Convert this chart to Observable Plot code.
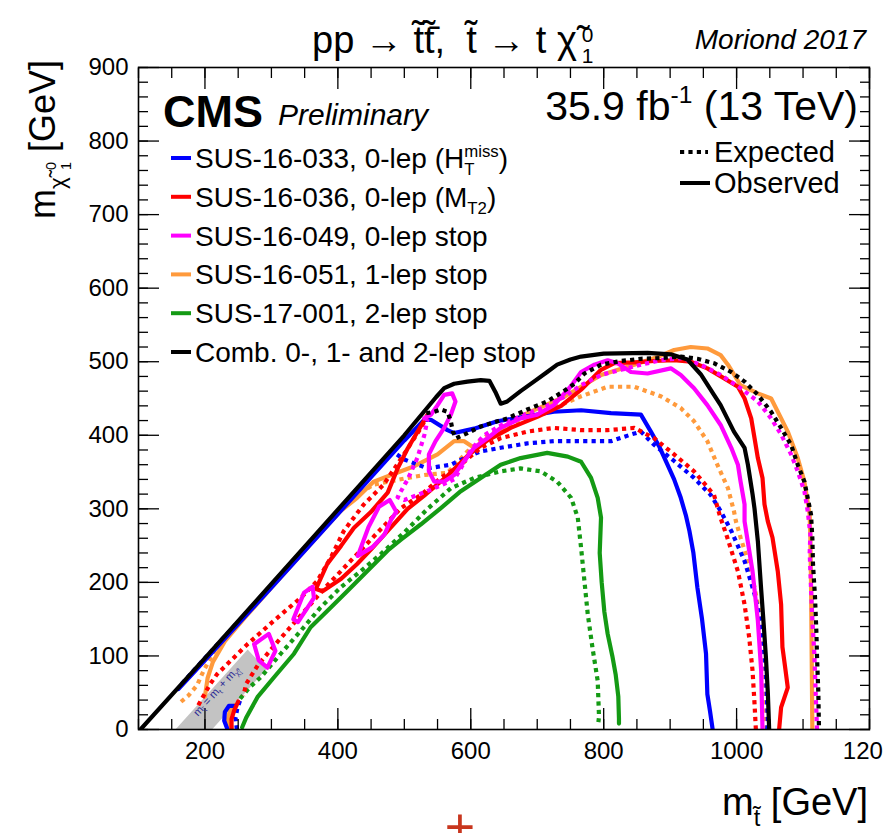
<!DOCTYPE html>
<html>
<head>
<meta charset="utf-8">
<script src="https://cdn.jsdelivr.net/npm/d3@7"></script>
<script src="https://cdn.jsdelivr.net/npm/@observablehq/plot@0.6"></script>
<style>
html,body{margin:0;padding:0;background:#fff;}
#chart svg{display:block}
</style>
</head>
<body>
<div id="chart"></div>
<script>
const FONT = '"Liberation Sans", Arial, Helvetica, sans-serif';

// ---------- axis ticks (GeV) ----------
const xMajorTicks = [200, 400, 600, 800, 1000, 1200];
const xMinorTicks = [100,150,200,250,300,350,400,450,500,550,600,650,700,750,800,850,900,950,1000,1050,1100,1150,1200];
const yMajorTicks = [0,100,200,300,400,500,600,700,800,900];
const yMinorTicks = [0,20,40,60,80,100,120,140,160,180,200,220,240,260,280,300,320,340,360,380,400,420,440,460,480,500,520,540,560,580,600,620,640,660,680,700,720,740,760,780,800,820,840,860,880,900];

// ---------- excluded band |m_stop - m_top - m_LSP| (GeV) ----------
const bandUpperEdge = [[157,0],[265,108]];
const bandLowerEdge = [[212,0],[293,81]];

// ---------- contours [m_stop, m_LSP] in GeV ----------
// Combination 0-,1-,2-lep (black)
const combObs = [[103,0],[200,97],[300,198],[400,299],[500,400],[548,452],[560,464],[575,470],[595,473],[615,475],[628,474],[637,459],[645,443],[655,446],[675,460],[695,473],[715,486],[730,496],[750,503],[766,507],[800,511],[866,512],[901,510],[926,503],[946,483],[966,455],[976,441],[996,405],[1012,383],[1017,360],[1024,320],[1027,300],[1032,256],[1037,190],[1041,140],[1044,100],[1047,50],[1049,0]];
const combExp = [[533,430],[545,432],[555,435],[565,432],[570,419],[573,405],[578,396],[595,403],[615,412],[655,423],[685,435],[715,446],[740,460],[756,470],[771,484],[796,496],[826,501],[856,504],[886,505],[916,507],[941,504],[966,498],[992,486],[1012,473],[1032,455],[1052,432],[1067,410],[1082,387],[1092,360],[1102,337],[1107,315],[1112,292],[1114,260],[1115,224],[1118,180],[1120,134],[1121,100],[1123,50],[1124,0]];

// SUS-16-033 (blue)
const h033Obs = [[964,0],[960,25],[956,48],[954,103],[948,150],[941,193],[935,240],[929,270],[924,290],[916,315],[906,340],[896,360],[884,384],[871,405],[856,428],[811,430],[766,434],[725,432],[680,425],[640,419],[605,409],[575,403],[565,407],[540,421],[530,421],[500,393],[450,343],[400,293],[300,193],[200,94],[160,55]];
const h033ObsLow = [[234,0],[229,12],[230,24],[236,32],[244,32]];
const h033Exp = [[1046,0],[1047,12],[1044,80],[1039,134],[1027,184],[1012,229],[992,270],[976,297],[961,319],[936,342],[906,365],[876,387],[856,405],[841,401],[811,392],[766,392],[725,392],[685,389],[645,383],[615,378],[595,371],[570,360],[535,355],[500,367],[482,378],[450,345],[400,296],[300,196],[200,97],[165,62]];
const h033ExpLow = [[248,0],[246,16],[249,30],[254,42]];

// SUS-16-036 (red)
const mt2Obs = [[1064,0],[1067,30],[1077,57],[1073,85],[1069,112],[1068,140],[1067,170],[1062,215],[1054,261],[1047,283],[1042,306],[1039,342],[1032,369],[1027,396],[1022,423],[1012,450],[1002,466],[982,477],[956,491],[931,500],[906,502],[876,501],[846,499],[816,498],[796,489],[766,462],[736,440],[700,425],[660,410],[625,393],[595,372],[565,345],[530,318],[505,300],[475,270],[450,245],[429,225],[405,205],[377,188],[367,191],[375,207],[384,225],[405,250],[424,274],[450,296],[475,322],[490,355],[505,382],[520,405],[535,428]];
const mt2ObsLow = [[240,0],[240,14],[244,26],[250,38]];
const mt2Exp = [[1029,0],[1027,35],[1024,80],[1019,125],[1012,170],[1002,215],[986,261],[975,290],[966,319],[936,351],[906,374],[876,396],[846,410],[806,407],[766,407],[725,410],[685,405],[645,396],[615,383],[585,360],[555,342],[525,319],[495,301],[460,268],[420,230],[380,192],[344,155],[310,120],[280,88],[262,62],[258,46]];
const mt2ExpUpper = [[190,33],[208,62],[218,75],[264,116],[304,148],[344,179],[369,202],[389,233],[409,270],[439,306],[469,333],[500,375],[525,410],[538,432]];

// SUS-16-049 (magenta)
const stop0Obs = [[1039,0],[1037,80],[1032,148],[1024,215],[1012,283],[1012,306],[1006,337],[1002,360],[992,383],[976,414],[956,441],[936,464],[916,482],[901,491],[866,484],[841,486],[821,498],[806,502],[786,496],[766,486],[750,466],[725,441],[700,428],[675,423],[645,410],[625,396],[605,383],[590,365],[575,346],[560,337],[545,337],[537,351],[537,374],[547,392],[560,410],[570,428],[577,446],[572,457],[560,455],[550,441],[540,428],[530,423]];
const stop0IslandA = [[274,116],[296,130],[306,107],[294,84],[281,94],[274,116]];
const stop0IslandB = [[333,150],[349,186],[362,194],[364,179],[340,146],[333,150]];
const stop0IslandC = [[430,236],[446,275],[462,303],[478,312],[488,296],[480,285],[470,265],[452,248],[430,236]];
const stop0Exp = [[1121,0],[1119,50],[1117,103],[1114,150],[1112,193],[1110,240],[1111,265],[1107,297],[1102,324],[1092,351],[1082,374],[1067,401],[1052,423],[1032,446],[1006,464],[976,482],[946,496],[916,505],[886,502],[856,496],[826,489],[796,482],[766,468],[740,452],[710,438],[680,428],[650,416],[620,400],[600,380],[585,355],[575,340],[540,326],[500,312],[490,316],[505,340],[520,370],[530,400],[535,422]];

// SUS-16-051 (orange)
const stop1Obs = [[1114,0],[1113,100],[1112,200],[1111,261],[1110,292],[1102,337],[1092,369],[1077,405],[1062,432],[1052,450],[1032,457],[1006,468],[987,496],[976,509],[956,518],[931,520],[906,516],[880,506],[846,496],[796,482],[766,466],[740,452],[710,440],[680,428],[650,412],[625,395],[605,383],[590,392],[575,392],[550,374],[515,358],[480,346],[454,337],[429,315],[404,297],[380,273],[340,233],[300,193],[260,152],[230,120],[212,92],[204,70],[200,45]];
const stop1ObsLow = [[236,0],[234,12],[237,24],[245,33]];
const stop1Exp = [[1045,0],[1044,12],[1042,80],[1037,148],[1022,215],[1006,261],[999,283],[996,297],[987,328],[971,360],[956,392],[936,419],[916,437],[886,453],[846,466],[806,466],[766,453],[725,437],[685,425],[655,412],[625,400],[595,378],[565,349],[530,346],[505,342],[454,333],[420,314],[400,297],[360,257],[300,197],[250,146],[215,108],[198,80],[188,60],[175,46],[163,37]];
const stop1ExpLow = [[240,0],[239,15],[246,34]];

// SUS-17-001 (green)
const stop2Obs = [[256,3],[262,16],[279,44],[304,71],[334,103],[359,139],[384,161],[414,188],[444,215],[477,245],[495,258],[525,279],[555,301],[585,324],[615,342],[645,360],[675,369],[715,376],[746,371],[766,364],[781,342],[791,315],[796,288],[794,240],[797,200],[801,160],[806,130],[813,100],[818,75],[822,45],[823,15],[823,8]];
const stop2Exp = [[253,42],[268,58],[284,71],[314,103],[344,134],[374,166],[404,193],[434,215],[464,238],[500,268],[535,300],[570,328],[605,342],[645,351],[675,355],[705,351],[730,337],[751,315],[761,288],[766,247],[771,202],[776,157],[783,112],[791,66],[793,17],[792,10]];

// ---------- legend ----------
const legendLabels = ["SUS-16-033, 0-lep (H", "SUS-16-036, 0-lep (M", "SUS-16-049, 0-lep stop", "SUS-16-051, 1-lep stop", "SUS-17-001, 2-lep stop", "Comb. 0-, 1- and 2-lep stop"];

const BLUE = "#0000ff", RED = "#ff0000", MAGENTA = "#ff00ff", ORANGE = "#ff9a3c", GREEN = "#149a14", BLACK = "#000000";
const legendColors = [BLUE, RED, MAGENTA, ORANGE, GREEN, BLACK];

const curves = [
  {pts: stop2Exp, c: GREEN, dot: true}, {pts: stop2Obs, c: GREEN},
  {pts: stop1Exp, c: ORANGE, dot: true}, {pts: stop1ExpLow, c: ORANGE, dot: true},
  {pts: stop1Obs, c: ORANGE}, {pts: stop1ObsLow, c: ORANGE},
  {pts: h033Exp, c: BLUE, dot: true}, {pts: h033ExpLow, c: BLUE, dot: true},
  {pts: h033Obs, c: BLUE}, {pts: h033ObsLow, c: BLUE},
  {pts: mt2Exp, c: RED, dot: true}, {pts: mt2ExpUpper, c: RED, dot: true},
  {pts: mt2Obs, c: RED}, {pts: mt2ObsLow, c: RED},
  {pts: stop0Exp, c: MAGENTA, dot: true},
  {pts: stop0Obs, c: MAGENTA}, {pts: stop0IslandA, c: MAGENTA}, {pts: stop0IslandB, c: MAGENTA}, {pts: stop0IslandC, c: MAGENTA},
  {pts: combExp, c: BLACK, dot: true}, {pts: combObs, c: BLACK}
];

const bandRows = [
  {x1: bandLowerEdge[0][0], y1: bandLowerEdge[0][1], x2: bandUpperEdge[0][0], y2: bandUpperEdge[0][1]},
  {x1: bandLowerEdge[1][0], y1: bandLowerEdge[1][1], x2: bandUpperEdge[1][0], y2: bandUpperEdge[1][1]}
];

const noText = () => "";
const chart = Plot.plot({
  width: 883, height: 833,
  marginLeft: 138, marginRight: 14, marginTop: 67, marginBottom: 104,
  x: {domain: [100, 1200]},
  y: {domain: [0, 900]},
  style: {fontFamily: FONT, background: "#fff", color: "#000", fontSize: "24px"},
  marks: [
    Plot.area(bandRows, {x1: "x1", y1: "y1", x2: "x2", y2: "y2", fill: "#c3c3c3"}),
    ...curves.map(s => Plot.line(s.pts, {
      x: d => d[0], y: d => d[1], stroke: s.c, strokeWidth: 4.2,
      strokeDasharray: s.dot ? "4.2,4.2" : null,
      strokeLinejoin: "round", strokeLinecap: s.dot ? "butt" : "round", clip: true
    })),
    Plot.frame({stroke: "#000", strokeWidth: 1.6}),
    Plot.axisX(xMinorTicks, {anchor: "bottom", tickSize: -10, tickFormat: noText, label: null, strokeWidth: 1.3}),
    Plot.axisX(xMajorTicks, {anchor: "bottom", tickSize: -21, tickFormat: noText, label: null, strokeWidth: 1.3}),
    Plot.axisX(xMinorTicks, {anchor: "top", tickSize: -10, tickFormat: noText, label: null, strokeWidth: 1.3}),
    Plot.axisX(xMajorTicks, {anchor: "top", tickSize: -21, tickFormat: noText, label: null, strokeWidth: 1.3}),
    Plot.axisY(yMinorTicks, {anchor: "left", tickSize: -10, tickFormat: noText, label: null, strokeWidth: 1.3}),
    Plot.axisY(yMajorTicks, {anchor: "left", tickSize: -21, tickFormat: noText, label: null, strokeWidth: 1.3}),
    Plot.axisY(yMinorTicks, {anchor: "right", tickSize: -10, tickFormat: noText, label: null, strokeWidth: 1.3}),
    Plot.axisY(yMajorTicks, {anchor: "right", tickSize: -21, tickFormat: noText, label: null, strokeWidth: 1.3}),
    Plot.axisX(xMajorTicks, {anchor: "bottom", tickSize: 0, tickPadding: 12, label: null, fontSize: 24, tickFormat: d => String(d)}),
    Plot.axisY(yMajorTicks, {anchor: "left", tickSize: 0, tickPadding: 10, label: null, fontSize: 24, tickFormat: d => String(d)})
  ]
});
document.getElementById("chart").appendChild(chart);

// ---------- annotations ----------
const svg = d3.select(chart);
const g = svg.append("g").attr("font-family", FONT);

function rich(x, y, parts, o) {
  const size = o.size;
  const t = g.append("text")
    .attr("x", x).attr("y", y)
    .attr("font-size", size)
    .attr("text-anchor", o.anchor || "start")
    .attr("fill", o.fill || "#000")
    .style("white-space", "pre");
  if (o.weight) t.attr("font-weight", o.weight);
  if (o.italic) t.attr("font-style", "italic");
  if (o.rotate) t.attr("transform", `rotate(${o.rotate},${x},${y})`);
  let cur = 0, prevLen = 0, pending = 0;
  for (const p of parts) {
    const s = p.s ?? 1, off = (p.o ?? 0) * size;
    const ts = t.append("tspan").attr("font-size", size * s).attr("dy", off - cur).text(p.t);
    const len = ts.node().getComputedTextLength();
    let dx = (p.dx ?? 0) * size;
    if (p.back) {
      dx -= prevLen;
      pending = Math.max(0, prevLen - len);
    } else if (pending) {
      dx += pending;
      pending = 0;
    }
    if (dx) ts.attr("dx", dx);
    cur = off;
    prevLen = len;
  }
  return t;
}

// title
rich(312, 53, [{t: "pp \u2192 t\u0303t\u0303\u0304,  t\u0303 \u2192 t \u03c7\u0303"}, {t: "0", s: .55, o: -.3, dx: .13}, {t: "1", s: .55, o: .25, back: true}], {size: 38});
rich(866, 49, [{t: "Moriond 2017"}], {size: 28, anchor: "end", italic: true});

// axis titles
rich(868, 815, [{t: "m"}, {t: "t\u0303", s: .62, o: .3}, {t: " [GeV]", o: 0}], {size: 38, anchor: "end"});
rich(55, 60, [{t: "m"}, {t: "\u03c7\u0303", s: .62, o: .28}, {t: "0", s: .4, o: .02, dx: .2}, {t: "1", s: .4, o: .45, back: true}, {t: " [GeV]", o: 0}], {size: 36, anchor: "end", rotate: -90});

// CMS labels
rich(163, 127, [{t: "CMS"}], {size: 45, weight: "bold"});
rich(278, 125, [{t: "Preliminary"}], {size: 30, italic: true});
rich(858, 120, [{t: "35.9 fb"}, {t: "-1", s: .6, o: -.42}, {t: " (13 TeV)", o: 0}], {size: 41, anchor: "end"});

// legend of analyses
const legendParts = [
  [{t: legendLabels[0]}, {t: "miss", s: .6, o: -.4}, {t: "T", s: .6, o: .25, back: true}, {t: ")", o: 0}],
  [{t: legendLabels[1]}, {t: "T2", s: .6, o: .25}, {t: ")", o: 0}],
  [{t: legendLabels[2]}], [{t: legendLabels[3]}], [{t: legendLabels[4]}], [{t: legendLabels[5]}]
];
legendParts.forEach((parts, i) => {
  const yb = 168 + i * 38.8;
  g.append("line").attr("x1", 171).attr("x2", 191).attr("y1", yb - 10).attr("y2", yb - 10)
    .attr("stroke", legendColors[i]).attr("stroke-width", 4);
  rich(195, yb, parts, {size: 28});
});

// expected / observed legend
g.append("line").attr("x1", 680).attr("x2", 708).attr("y1", 152).attr("y2", 152)
  .attr("stroke", "#000").attr("stroke-width", 4).attr("stroke-dasharray", "4.2,4.2");
g.append("line").attr("x1", 680).attr("x2", 710).attr("y1", 183).attr("y2", 183)
  .attr("stroke", "#000").attr("stroke-width", 4);
rich(714, 162, [{t: "Expected"}], {size: 29});
rich(714, 193, [{t: "Observed"}], {size: 29});

// band label, anchored on the band through the plot scales
const sx = chart.scale("x"), sy = chart.scale("y");
const bx = sx.apply((bandUpperEdge[0][0] + bandLowerEdge[1][0]) / 2 - 3);
const by = sy.apply((bandUpperEdge[1][1] + bandLowerEdge[0][1]) / 2);
rich(bx, by + 4, [{t: "m"}, {t: "t\u0303", s: .65, o: .25}, {t: " = m", o: 0}, {t: "t", s: .65, o: .25}, {t: " + m", o: 0}, {t: "\u03c7\u0303", s: .65, o: .25}, {t: "0", s: .45, o: 0}, {t: "1", s: .45, o: .4, back: true}],
  {size: 11, anchor: "middle", rotate: -48, fill: "#2c2c96"});

// stray red cross below the axis
rich(460, 845, [{t: "+"}], {size: 52, anchor: "middle", fill: "#c8361e"});
</script>
</body>
</html>
